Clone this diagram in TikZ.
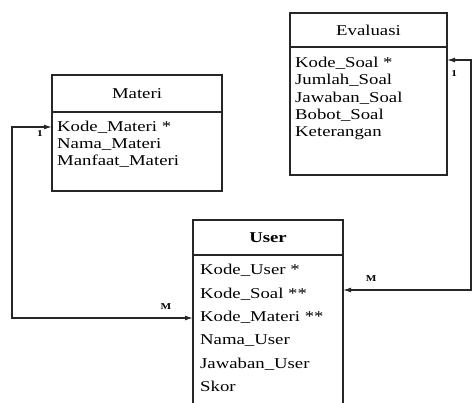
\documentclass[tikz,border=0pt]{standalone}
\usepackage{fontspec}
\setmainfont{Liberation Serif}[FakeStretch=1.25]
\usetikzlibrary{positioning,arrows.meta}

\tikzset{
  hdr/.style={draw=black!85, line width=1.3pt, inner sep=0pt, outer sep=0pt, font=\fontsize{15}{17}\selectfont},
  tblbody/.style={draw=black!85, line width=1.3pt, inner sep=0pt, outer sep=0pt},
  attrs/.style={align=left, inner sep=0pt, anchor=north west},
  link/.style={draw=black!85, line width=1.3pt, {Latex[length=8pt,width=5pt]}-{Latex[length=8pt,width=5pt]}},
  mult/.style={font=\fontsize{9}{10}\selectfont\bfseries, inner sep=0pt}
}

\begin{document}
\begin{tikzpicture}[x=1pt, y=-1pt]
        \useasboundingbox (0,0) rectangle (473,403);

        % Materi table
        \node (materi) [hdr, anchor=north west, minimum width=170pt, minimum height=37pt] at (52,75) {Materi};
        \node (materiBody) [tblbody, below=0pt of materi, minimum width=170pt, minimum height=79pt] {};
        \node (materiAttr) [attrs, font=\fontsize{15}{16.7}\selectfont] at (57,121) {Kode\_Materi *\\Nama\_Materi\\Manfaat\_Materi};

        % Evaluasi table
        \node (evaluasi) [hdr, anchor=north west, minimum width=157pt, minimum height=34pt] at (290,13) {Evaluasi};
        \node (evaluasiBody) [tblbody, below=0pt of evaluasi, minimum width=157pt, minimum height=128pt] {};
        \node (evaluasiAttr) [attrs, font=\fontsize{15}{17.3}\selectfont] at (295,57) {Kode\_Soal *\\Jumlah\_Soal\\Jawaban\_Soal\\Bobot\_Soal\\Keterangan};

        % User table
        \node (user) [hdr, anchor=north west, minimum width=150pt, minimum height=35pt] at (193,220) {\textbf{User}};
        \node (userBody) [tblbody, below=0pt of user, minimum width=150pt, minimum height=160pt] {};
        \node (userAttr) [attrs, font=\fontsize{15}{23.4}\selectfont] at (200,264) {Kode\_User *\\Kode\_Soal **\\Kode\_Materi **\\Nama\_User\\Jawaban\_User\\Skor};

        % Relations
        \draw[link] ([yshift=-15pt]materiBody.north west) -- node[mult, below=3pt, pos=.3] (oneMateri) {1} ++(-40,0)
            |- node[mult, above=8pt, pos=.925] (manyMateri) {M} ([yshift=-63pt]userBody.north west);
        \draw[link] ([yshift=-13pt]evaluasiBody.north east) -- node[mult, below=10pt, pos=.3] (oneEvaluasi) {1} ++(24,0)
            |- node[mult, above=8pt, pos=.89] (manyEvaluasi) {M} ([yshift=-35pt]userBody.north east);

    \end{tikzpicture}
\end{document}
